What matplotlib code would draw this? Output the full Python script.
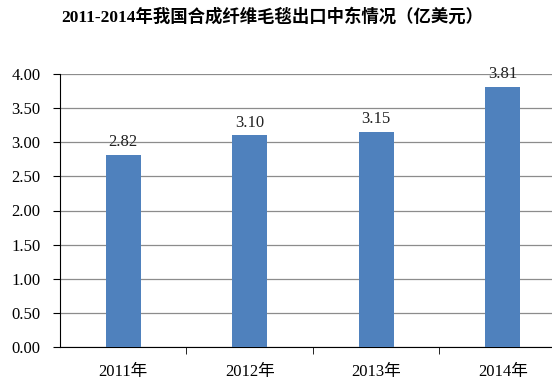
import matplotlib
matplotlib.use("Agg")
import matplotlib.pyplot as plt
import numpy as np

categories = ["2011年", "2012年", "2013年", "2014年"]
values = [2.82, 3.10, 3.15, 3.81]
yticks = [0.0, 0.5, 1.0, 1.5, 2.0, 2.5, 3.0, 3.5, 4.0]
title = "2011-2014年我国合成纤维毛毯出口中东情况（亿美元）"

fam = ["Liberation Serif", "Noto Sans CJK SC"]
plt.rcParams["font.family"] = fam

fig = plt.figure(figsize=(5.52, 3.87), dpi=100)
L, R, T, B = 60, 566, 74, 347
ax = fig.add_axes([L / 552, 1 - B / 387, (R - L) / 552, (B - T) / 387])

x = np.arange(len(categories))
ax.bar(x, values, width=0.28, color="#4F81BD", zorder=3)
for xi, v in zip(x, values):
    ax.text(xi, v + 0.07, f"{v:.2f}", ha="center", va="bottom", fontsize=12, color="#222222")

ax.set_xlim(-0.5, 3.5)
ax.set_ylim(0, 4.0)
ax.set_yticks(yticks)
ax.set_yticklabels([f"{t:.2f}" for t in yticks], fontsize=12)
ax.yaxis.grid(True, color="#8c8c8c", linewidth=0.9, zorder=0)
ax.set_xticks(x)
ax.set_xticklabels(categories, fontsize=12)
ax.set_xticks([0.5, 1.5, 2.5], minor=True)
ax.tick_params(axis="x", which="major", length=0, pad=12)
ax.tick_params(axis="x", which="minor", length=5, direction="out", color="black")
ax.tick_params(axis="y", length=5, direction="out", pad=9)
for s in ["top", "right"]:
    ax.spines[s].set_visible(False)
ax.spines["left"].set_color("black")
ax.spines["bottom"].set_color("black")

fig.text(272 / 552, 1 - 17 / 387, title, ha="center", va="center", fontsize=12.5, fontweight="bold")

fig.savefig("out.png", dpi=100)
